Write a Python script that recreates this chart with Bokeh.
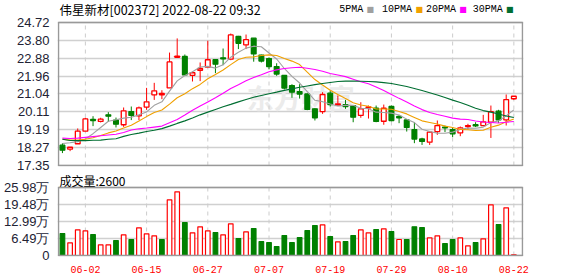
from bokeh.plotting import figure
from bokeh.layouts import column
from bokeh.models import FixedTicker, Label, ColumnDataSource, Range1d, PrintfTickFormatter
from bokeh.embed import file_html
from bokeh.resources import INLINE

name = "伟星新材"
code = "002372"
stamp = "2022-08-22 09:32"

dates = ["05-30", "05-31", "06-01", "06-02", "06-06", "06-07", "06-08", "06-09", "06-10", "06-13",
         "06-14", "06-15", "06-16", "06-17", "06-20", "06-21", "06-22", "06-23", "06-24", "06-27",
         "06-28", "06-29", "06-30", "07-01", "07-04", "07-05", "07-06", "07-07", "07-08", "07-11",
         "07-12", "07-13", "07-14", "07-15", "07-18", "07-19", "07-20", "07-21", "07-22", "07-25",
         "07-26", "07-27", "07-28", "07-29", "08-01", "08-02", "08-03", "08-04", "08-05", "08-08",
         "08-09", "08-10", "08-11", "08-12", "08-15", "08-16", "08-17", "08-18", "08-19", "08-22"]

open_ = [18.40, 18.19, 18.47, 19.12, 19.72, 19.62, 19.96, 19.69, 19.45, 20.13,
         19.91, 20.36, 20.99, 20.99, 21.35, 22.93, 22.97, 22.00, 22.26, 22.42,
         22.80, 22.90, 22.83, 24.00, 23.57, 23.91, 23.04, 22.86, 22.45, 21.99,
         21.47, 21.16, 21.04, 20.27, 20.13, 21.08, 20.46, 20.48, 20.44, 19.93,
         20.32, 20.30, 19.63, 20.39, 19.88, 19.70, 19.20, 18.72, 18.55, 19.10,
         19.33, 19.20, 19.03, 19.36, 19.45, 19.41, 19.58, 20.15, 19.70, 20.79]
high = [18.50, 18.30, 19.26, 19.81, 19.89, 19.81, 20.10, 19.82, 20.34, 20.39,
        20.39, 21.35, 21.61, 21.23, 23.17, 23.90, 23.07, 22.19, 22.66, 23.78,
        22.80, 23.38, 24.15, 24.03, 24.10, 23.91, 23.06, 22.92, 22.62, 21.99,
        21.54, 21.54, 21.06, 20.30, 21.13, 21.18, 20.96, 20.73, 20.46, 20.61,
        20.44, 20.44, 20.49, 20.44, 19.96, 19.75, 19.58, 18.78, 19.10, 19.67,
        19.41, 19.33, 19.36, 19.50, 19.58, 19.96, 20.44, 20.22, 21.01, 20.92]
low = [17.99, 18.09, 18.47, 19.12, 19.38, 19.57, 19.60, 19.31, 19.34, 19.69,
       19.69, 20.22, 20.73, 20.77, 21.35, 22.93, 21.97, 21.68, 21.70, 22.42,
       22.11, 22.52, 22.78, 23.35, 23.35, 22.70, 22.66, 22.31, 21.97, 21.27,
       20.84, 20.80, 20.20, 19.67, 20.01, 20.39, 20.46, 20.27, 19.58, 19.81,
       19.77, 19.58, 19.45, 19.63, 19.53, 19.10, 18.50, 18.41, 18.41, 18.93,
       19.07, 18.81, 18.86, 19.21, 19.33, 19.41, 18.77, 19.55, 19.41, 20.73]
close = [18.14, 18.29, 19.12, 19.75, 19.67, 19.74, 19.89, 19.48, 20.17, 19.93,
         20.32, 20.63, 21.20, 21.06, 22.69, 22.98, 22.02, 22.13, 22.35, 22.80,
         22.57, 22.85, 24.08, 23.65, 23.84, 23.10, 22.73, 22.45, 22.06, 21.34,
         21.13, 21.03, 20.24, 19.81, 21.01, 20.49, 20.53, 20.39, 19.84, 20.27,
         20.37, 19.62, 20.30, 19.67, 19.81, 19.31, 18.71, 18.59, 19.07, 19.41,
         19.29, 18.98, 19.29, 19.41, 19.39, 19.60, 20.13, 19.70, 20.75, 20.92]

ma5 = [18.48, 18.52, 18.58, 18.72, 18.99, 19.31, 19.63, 19.71, 19.79, 19.84,
       19.96, 20.11, 20.45, 20.63, 21.18, 21.71, 21.99, 22.18, 22.43, 22.46,
       22.37, 22.54, 22.93, 23.19, 23.40, 23.50, 23.47, 23.15, 22.84, 22.35,
       21.94, 21.60, 21.16, 20.71, 20.64, 20.52, 20.42, 20.45, 20.45, 20.30,
       20.28, 20.10, 20.08, 20.05, 19.95, 19.74, 19.56, 19.22, 19.10, 19.02,
       19.01, 19.07, 19.21, 19.28, 19.27, 19.33, 19.56, 19.65, 19.91, 20.22]
ma10 = [18.70, 18.66, 18.66, 18.70, 18.78, 18.90, 19.03, 19.13, 19.28, 19.42,
        19.64, 19.87, 20.08, 20.21, 20.51, 20.84, 21.05, 21.31, 21.53, 21.82,
        22.04, 22.27, 22.55, 22.81, 22.93, 22.95, 23.02, 23.05, 23.02, 22.87,
        22.73, 22.55, 22.16, 21.78, 21.50, 21.23, 21.01, 20.80, 20.58, 20.47,
        20.40, 20.26, 20.26, 20.25, 20.13, 20.01, 19.83, 19.65, 19.57, 19.49,
        19.38, 19.31, 19.21, 19.19, 19.15, 19.17, 19.32, 19.43, 19.60, 19.75]
ma20 = [18.76, 18.74, 18.76, 18.80, 18.84, 18.88, 18.92, 18.96, 19.05, 19.18,
        19.24, 19.28, 19.33, 19.38, 19.55, 19.72, 19.95, 20.20, 20.42, 20.62,
        20.84, 21.07, 21.32, 21.51, 21.72, 21.89, 22.03, 22.18, 22.28, 22.35,
        22.39, 22.41, 22.36, 22.30, 22.21, 22.09, 22.01, 21.93, 21.80, 21.67,
        21.56, 21.40, 21.21, 21.01, 20.81, 20.62, 20.42, 20.23, 20.08, 19.98,
        19.89, 19.79, 19.74, 19.72, 19.64, 19.59, 19.57, 19.54, 19.58, 19.62]
ma30 = [18.70, 18.64, 18.63, 18.63, 18.65, 18.66, 18.70, 18.73, 18.85, 18.95,
        19.02, 19.10, 19.17, 19.25, 19.38, 19.52, 19.65, 19.80, 19.96, 20.10,
        20.24, 20.38, 20.50, 20.63, 20.75, 20.87, 20.96, 21.05, 21.13, 21.22,
        21.30, 21.38, 21.45, 21.52, 21.58, 21.63, 21.68, 21.70, 21.70, 21.69,
        21.68, 21.66, 21.62, 21.58, 21.50, 21.42, 21.32, 21.22, 21.10, 20.98,
        20.85, 20.72, 20.60, 20.45, 20.30, 20.18, 20.10, 20.00, 19.90, 19.82]

# volume in 万 shares
volume = [8.41, 4.84, 9.81, 9.42, 8.02, 4.08, 4.08, 5.73, 7.90, 6.11,
          10.57, 8.28, 7.51, 6.11, 21.27, 24.32, 12.61, 8.66, 10.95, 9.42,
          8.79, 7.90, 12.10, 6.49, 9.04, 10.32, 5.35, 4.97, 3.44, 7.64,
          4.97, 6.88, 9.55, 11.46, 11.72, 7.26, 5.22, 5.35, 7.64, 9.81,
          8.66, 9.93, 10.19, 9.17, 6.11, 6.11, 10.95, 10.70, 6.75, 7.51,
          4.58, 6.11, 6.75, 3.69, 4.97, 6.37, 19.36, 11.84, 18.21, 0.26]

price_ticks = [17.35, 18.27, 19.19, 20.11, 21.04, 21.96, 22.88, 23.80, 24.72]
vol_ticks = [0, 6.49, 12.99, 19.48, 25.98]
ma_names = ["5PMA", "10PMA", "20PMA", "30PMA"]
ma_colors = ["#a0a0a0", "#f0a000", "#ff00ff", "#006e32"]

RED = "#ff0000"
GREEN = "#008000"
BORDER = "#999999"

n = len(close)
xs = list(range(n))
up = [c >= o for o, c in zip(open_, close)]
prev = [open_[0]] + close[:-1]
vup = [c >= pc for c, pc in zip(close, prev)]

src = ColumnDataSource(dict(
    x=xs, o=open_, h=high, l=low, c=close,
    top=[max(a, b) for a, b in zip(open_, close)],
    bot=[min(a, b) for a, b in zip(open_, close)],
    col=[RED if u else GREEN for u in up],
    fill=["#ffffff" if u else GREEN for u in up],
))
vsrc = ColumnDataSource(dict(
    x=xs, v=volume,
    col=[RED if u else GREEN for u in vup],
    fill=["#ffffff" if u else GREEN for u in vup],
))

# pixel geometry helpers (layout / annotation placement only)
X0, DX = 59.95, 7.684
def px_x(px):
    return (px - X0) / DX

xr = Range1d(px_x(55), px_x(523))
x_left, x_right = px_x(56), px_x(522)
label_ticks = list(range(3, n, 8))

# ---------------- price panel ----------------
kp = (price_ticks[-1] - price_ticks[0]) / 143.0
p = figure(width=578, height=172, x_range=xr,
           y_range=Range1d(price_ticks[0] - 1 * kp, price_ticks[-1] + 22 * kp),
           output_backend="svg", toolbar_location=None, x_axis_location=None,
           min_border_left=55, min_border_right=55, min_border_top=0, min_border_bottom=6)
p.title.visible = False
p.outline_line_color = None
p.yaxis.ticker = FixedTicker(ticks=price_ticks)
p.yaxis.formatter = PrintfTickFormatter(format="%.2f")
p.yaxis.axis_line_color = None
p.yaxis.major_tick_line_color = None
p.yaxis.minor_tick_line_color = None
p.yaxis.major_label_text_font = "Liberation Sans"
p.yaxis.major_label_text_font_size = "13px"
p.yaxis.major_label_text_color = "#222233"
p.yaxis.major_label_standoff = 2
p.ygrid.ticker = FixedTicker(ticks=price_ticks)
p.ygrid.grid_line_color = "#d0d0d0"
p.ygrid.grid_line_width = 1.5
p.xgrid.grid_line_color = None

p.segment(x0=label_ticks, y0=[price_ticks[0]] * len(label_ticks), x1=label_ticks,
          y1=[price_ticks[-1]] * len(label_ticks), line_color="#cccccc", line_dash="4 4", line_width=1)

# watermark
p.add_layout(Label(x=px_x(245), y=20.85, text="东方财富", text_font="Noto Sans CJK SC",
                   text_font_size="27px", text_font_style="bold", text_color="#ebebeb",
                   text_baseline="middle", level="underlay"))

p.segment(x0="x", y0="l", x1="x", y1="h", color="col", line_width=1, source=src)
p.vbar(x="x", width=0.62, top="top", bottom="bot", fill_color="fill", line_color="col",
       line_width=1.3, source=src)
for ma, colr in zip([ma5, ma10, ma20, ma30], ma_colors):
    p.line(xs, ma, line_color=colr, line_width=1.1)

p.quad(left=[x_left], right=[x_right], bottom=[price_ticks[0]], top=[price_ticks[-1]],
       fill_color=None, line_color=BORDER, line_width=1.5)

ytop = price_ticks[-1] + 13.5 * kp
p.add_layout(Label(x=px_x(57), y=ytop, text=f"{name}[{code}] {stamp}",
                   text_font="Noto Sans CJK SC", text_font_size="12.5px", text_color="#000000",
                   text_baseline="middle"))
leg_left = [338, 381, 425, 472]
for nm, colr, lx in zip(ma_names, ma_colors, leg_left):
    p.add_layout(Label(x=px_x(lx), y=ytop, text=nm, text_font="Liberation Mono",
                       text_font_size="10px", text_color="#000000", text_baseline="middle"))
    p.add_layout(Label(x=px_x(lx + 6.1 * len(nm) + 3), y=ytop, text="■", text_font="DejaVu Sans",
                       text_font_size="8px", text_color=colr, text_baseline="middle"))

# ---------------- volume panel ----------------
kv = (vol_ticks[-1] - vol_ticks[0]) / 68.0
v = figure(width=578, height=104, x_range=xr,
           y_range=Range1d(vol_ticks[0] - 1 * kv, vol_ticks[-1] + 15 * kv),
           output_backend="svg", toolbar_location=None,
           min_border_left=55, min_border_right=55, min_border_top=0, min_border_bottom=20)
v.title.visible = False
v.outline_line_color = None
v.yaxis.ticker = FixedTicker(ticks=vol_ticks)
v.yaxis.formatter = PrintfTickFormatter(format="%.2f万")
v.yaxis.major_label_overrides = {0: "0"}
v.yaxis.axis_line_color = None
v.yaxis.major_tick_line_color = None
v.yaxis.minor_tick_line_color = None
v.yaxis.major_label_text_font = "Liberation Sans"
v.yaxis.major_label_text_font_size = "13px"
v.yaxis.major_label_text_color = "#222233"
v.yaxis.major_label_standoff = 2
v.xaxis.ticker = FixedTicker(ticks=label_ticks)
v.xaxis.major_label_overrides = {t: dates[t] for t in label_ticks}
v.xaxis.axis_line_color = None
v.xaxis.major_tick_line_color = None
v.xaxis.minor_tick_line_color = None
v.xaxis.major_label_text_font = "Liberation Mono"
v.xaxis.major_label_text_font_size = "10px"
v.xaxis.major_label_text_color = RED
v.xaxis.major_label_standoff = 3
v.ygrid.ticker = FixedTicker(ticks=vol_ticks)
v.ygrid.grid_line_color = "#d0d0d0"
v.ygrid.grid_line_width = 1.5
v.xgrid.grid_line_color = None

v.segment(x0=label_ticks, y0=[vol_ticks[0]] * len(label_ticks), x1=label_ticks,
          y1=[vol_ticks[-1]] * len(label_ticks), line_color="#cccccc", line_dash="4 4", line_width=1)
v.vbar(x="x", width=0.6, top="v", bottom=0, fill_color="fill", line_color="col",
       line_width=1.2, source=vsrc)
v.quad(left=[x_left], right=[x_right], bottom=[vol_ticks[0]], top=[vol_ticks[-1]],
       fill_color=None, line_color=BORDER, line_width=1.5)

vtop = vol_ticks[-1] + 7.5 * kv
v.add_layout(Label(x=px_x(57), y=vtop, text=f"成交量:{volume[-1] * 10000:.0f}",
                   text_font="Noto Sans CJK SC", text_font_size="12px", text_color="#000000",
                   text_baseline="middle"))

layout = column(p, v, spacing=0)
open("out.html", "w").write(file_html(layout, INLINE))
